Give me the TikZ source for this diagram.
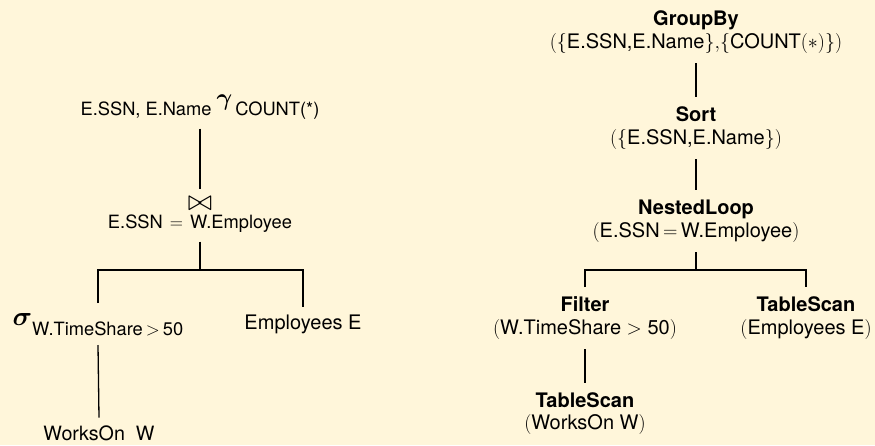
\documentclass[tikz,border=0pt]{standalone}
\usepackage{fix-cm}
\usepackage{amsmath,amssymb}
\usepackage{graphicx}
\usepackage[no-math]{fontspec}
\setmainfont{TeX Gyre Heros}
\definecolor{bg}{RGB}{255,246,218}
\newcommand{\bigsym}[2]{\scalebox{#1}{\fontsize{10}{12}\selectfont$#2$}}
\tikzset{
  every node/.style={inner sep=0pt, font=\fontsize{18.3}{23}\selectfont},
  lbl/.style={anchor=base, text height=13.5pt, text depth=4.5pt, outer sep=9pt},
  leaf/.style={lbl, font=\fontsize{20}{23}\selectfont},
  rl/.style={anchor=base, text height=13.5pt, text depth=4.5pt, outer sep=10.5pt, font=\fontsize{20}{23}\selectfont},
  title/.style={rl, font=\fontsize{20}{23}\selectfont\bfseries},
  edge/.style={line width=1.3pt}
}
\begin{document}
\begin{tikzpicture}[x=1pt,y=-1pt]
\fill[bg] (0,0) rectangle (875,445);
\useasboundingbox (0,0) rectangle (875,445);
% left tree
\node[lbl] (gam) at (200,115) {E.SSN, E.Name\hspace{5pt}\raisebox{10pt}{\bigsym{2.4}{\boldsymbol{\gamma}}}\hspace{3pt}COUNT(*)};
\node[lbl, text height=12pt, text depth=0pt] (bow) at (200,210) {\bigsym{2.9}{\bowtie}};
\node[lbl] (join) at (200,228) {E.SSN\hspace{7pt}$=$\hspace{7pt}W.Employee};
\coordinate (lbar) at (200,270);
\node[lbl, text height=23pt, text depth=1pt] (sel) at (98,335) {\raisebox{10pt}{\bigsym{2.7}{\boldsymbol{\sigma}}}W.TimeShare\,$>$\,50};
\node[leaf] (emp) at (303,329) {Employees E};
\node[leaf, font=\fontsize{19.7}{23}\selectfont] (works) at (99,440) {WorksOn\ \ W};
\draw[edge] (gam.south) -- (bow.north);
\draw[edge] (join.south) -- (lbar);
\draw[edge] (sel.north) |- (lbar) -| (emp.north);
\draw[edge] (sel.south) -- (works.north);
% right tree
\node[title] (gbT) at (696,25) {GroupBy};
\node[rl] (gbA) at (696,48) {$(\{\text{E.SSN,E.Name}\}{,}\{\text{COUNT}(\ast)\})$};
\node[title] (sortT) at (696,121) {Sort};
\node[rl] (sortA) at (696,144) {$(\{\text{E.SSN,E.Name}\})$};
\node[title] (nlT) at (696,214) {NestedLoop};
\node[rl] (nlA) at (696,237) {$(\text{E.SSN}\,{=}\,\text{W.Employee})$};
\coordinate (rbar) at (696,270);
\node[title] (filT) at (585,311) {Filter};
\node[rl] (filA) at (585,334) {$(\text{W.TimeShare}\;{>}\;\text{50})$};
\node[title] (tsT) at (806,311) {TableScan};
\node[rl] (tsA) at (806,334) {$(\text{Employees E})$};
\node[title] (ts2T) at (585,407) {TableScan};
\node[rl] (ts2A) at (585,429) {$(\text{WorksOn W})$};
\draw[edge] (gbA.south) -- (sortT.north);
\draw[edge] (sortA.south) -- (nlT.north);
\draw[edge] (nlA.south) -- (rbar);
\draw[edge] (filT.north) |- (rbar) -| (tsT.north);
\draw[edge] (filA.south) -- (ts2T.north);
\end{tikzpicture}
\end{document}
